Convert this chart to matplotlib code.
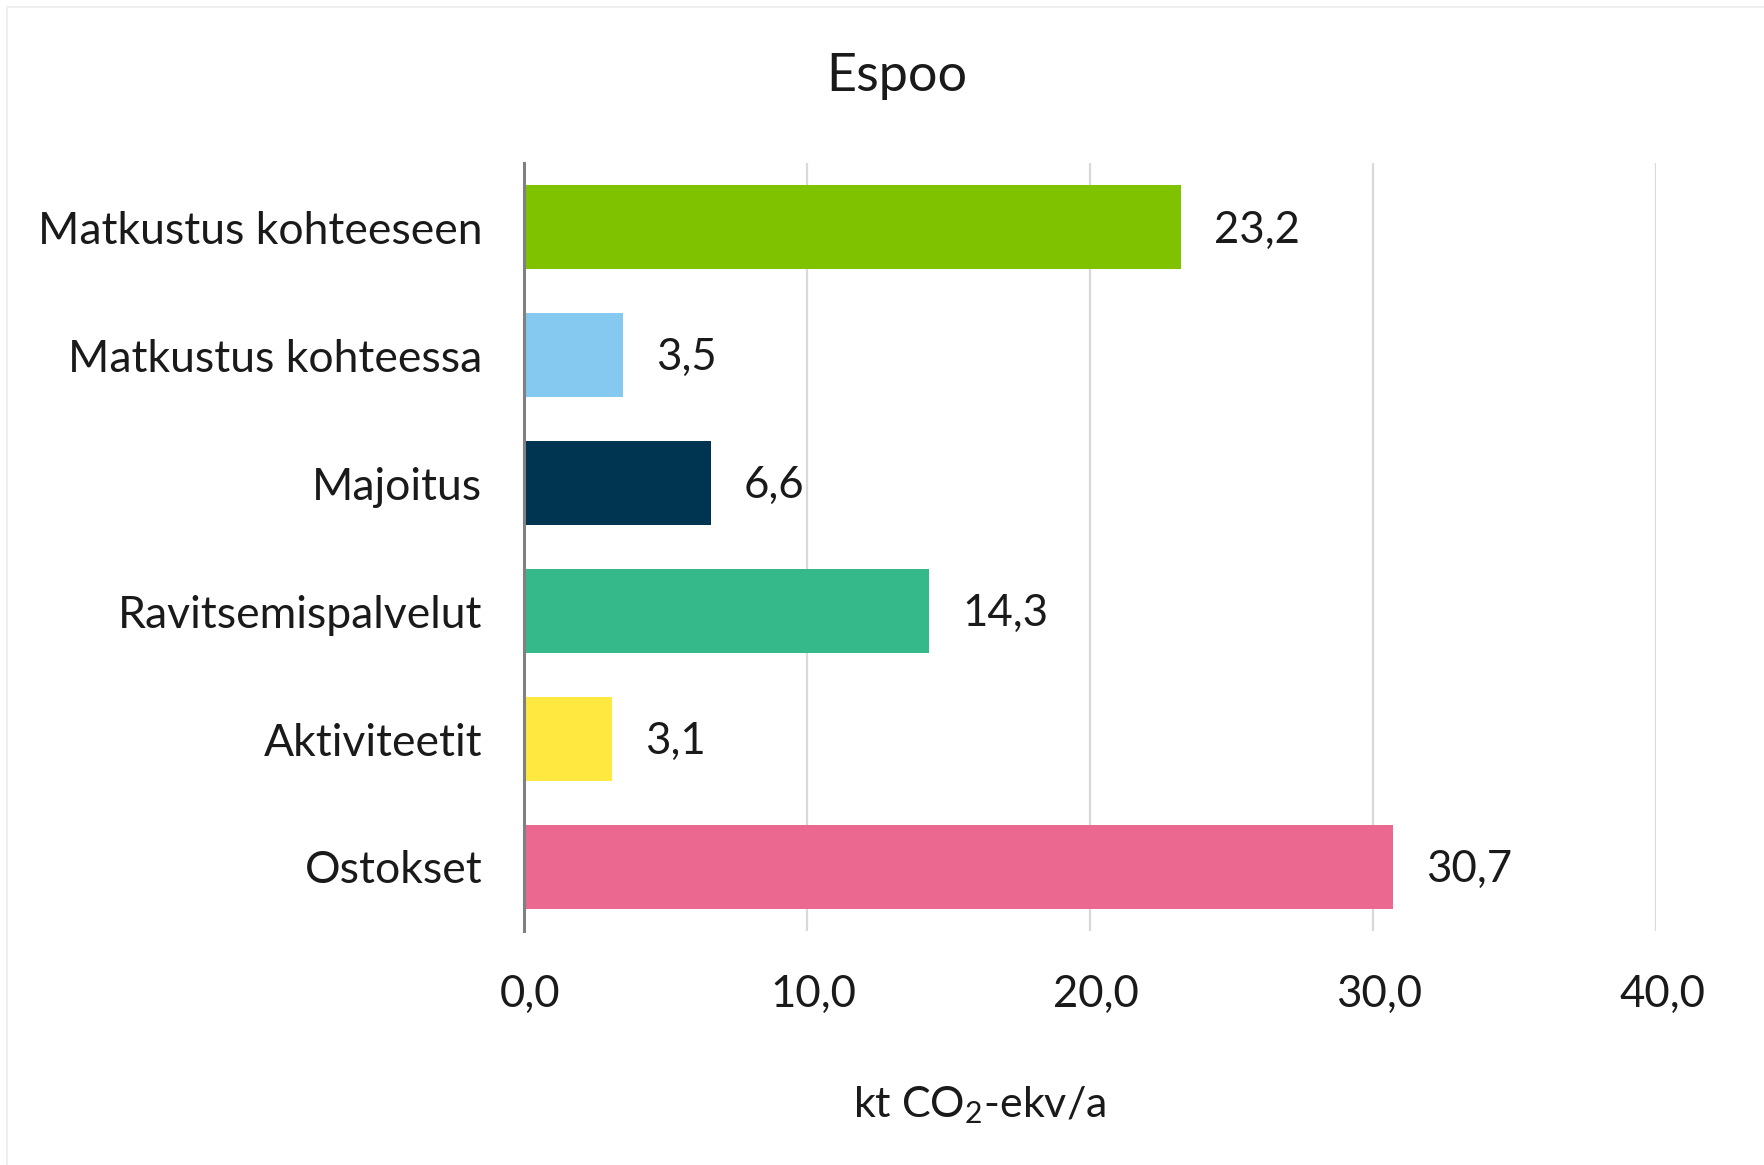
import matplotlib
matplotlib.use("Agg")
import matplotlib.pyplot as plt
import matplotlib.transforms as mtransforms
from matplotlib.lines import Line2D

categories = ["Matkustus kohteeseen", "Matkustus kohteessa", "Majoitus",
              "Ravitsemispalvelut", "Aktiviteetit", "Ostokset"]
values = [23.2, 3.5, 6.6, 14.3, 3.1, 30.7]
colors = ["#7FC200", "#85C8F0", "#003552", "#35B98B", "#FFE840", "#EB6890"]
xticks = [0, 10, 20, 30, 40]
title = "Espoo"
xlabel = r"kt CO$_2$-ekv/a"

FONT = "Lato"
plt.rcParams["font.family"] = [FONT, "DejaVu Sans"]
plt.rcParams["mathtext.fontset"] = "custom"
plt.rcParams["mathtext.rm"] = FONT
plt.rcParams["mathtext.it"] = FONT
plt.rcParams["mathtext.bf"] = FONT

FS = 31.5

fig = plt.figure(figsize=(17.64, 11.65), dpi=100)
ax = fig.add_axes([0.297, 0.2009, 0.642, 0.659])

ypos = list(range(len(categories)))
ax.barh(ypos, values, height=0.66, color=colors, zorder=3)
ax.set_ylim(len(categories) - 0.5, -0.5)
ax.set_xlim(0, 40)
ax.set_xticks(xticks)
ax.set_xticklabels([f"{t:.1f}".replace(".", ",") for t in xticks])
ax.set_yticks(ypos)
ax.set_yticklabels(categories)

for y, v in zip(ypos, values):
    ax.annotate(f"{v:.1f}".replace(".", ","), xy=(v, y), xytext=(24, -2),
                textcoords="offset points", va="center", ha="left",
                fontsize=FS, color="#1a1a1a")

ax.grid(axis="x", color="#D9D9D9", linewidth=1.6, zorder=0)
for s in ["top", "right", "bottom"]:
    ax.spines[s].set_visible(False)
ax.spines["left"].set_color("#808080")
ax.spines["left"].set_linewidth(2.2)
ax.spines["left"].set_zorder(4)
ax.tick_params(axis="both", length=0, labelsize=FS, colors="#1a1a1a")
ax.tick_params(axis="y", labelsize=32)
ax.tick_params(axis="x", pad=31)
ax.tick_params(axis="y", pad=30)

shift = mtransforms.ScaledTranslation(6 / 100, 0, fig.dpi_scale_trans)
for lbl in ax.get_xticklabels():
    lbl.set_transform(lbl.get_transform() + shift)

fig.text(0.5085, 0.934, title, ha="center", va="center", fontsize=37.5, color="#1a1a1a")
fig.text(0.555, 0.051, xlabel, ha="center", va="center", fontsize=31, color="#1a1a1a")

# faint outer border
fig.add_artist(Line2D([0.004, 1.0], [0.994, 0.994], transform=fig.transFigure,
                      color="#EEEEEE", linewidth=1.2))
fig.add_artist(Line2D([0.004, 0.004], [0.0, 0.994], transform=fig.transFigure,
                      color="#EEEEEE", linewidth=1.2))

fig.savefig("out.png", dpi=100, facecolor="white")
